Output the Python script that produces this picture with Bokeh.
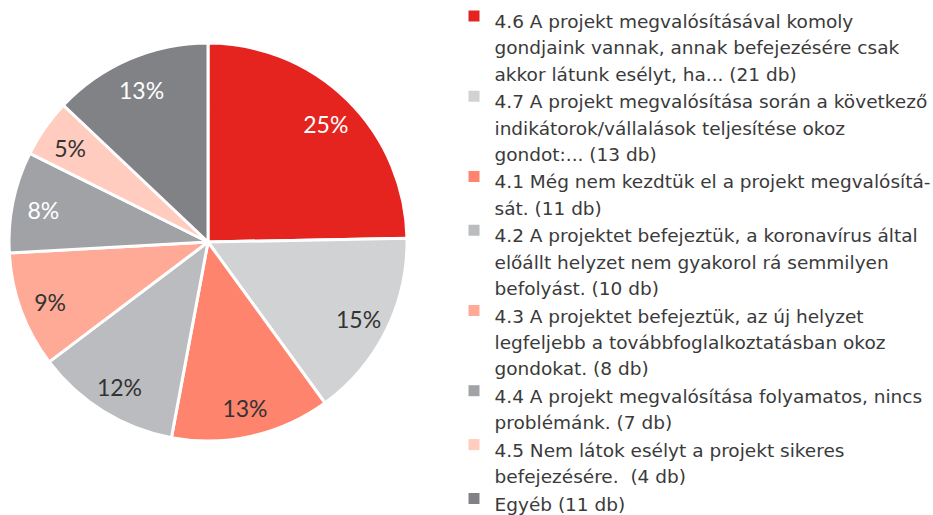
import math
from bokeh.plotting import figure
from bokeh.models import Range1d, ColumnDataSource
from bokeh.core.properties import value
from bokeh.embed import file_html
from bokeh.resources import INLINE

# ---- data ----
categories = [
    "4.6 A projekt megvalósításával komoly\ngondjaink vannak, annak befejezésére csak\nakkor látunk esélyt, ha... (21 db)",
    "4.7 A projekt megvalósítása során a következő\nindikátorok/vállalások teljesítése okoz\ngondot:... (13 db)",
    "4.1 Még nem kezdtük el a projekt megvalósítá-\nsát. (11 db)",
    "4.2 A projektet befejeztük, a koronavírus által\nelőállt helyzet nem gyakorol rá semmilyen\nbefolyást. (10 db)",
    "4.3 A projektet befejeztük, az új helyzet\nlegfeljebb a továbbfoglalkoztatásban okoz\ngondokat. (8 db)",
    "4.4 A projekt megvalósítása folyamatos, nincs\nproblémánk. (7 db)",
    "4.5 Nem látok esélyt a projekt sikeres\nbefejezésére.\u00a0 (4 db)",
    "Egyéb (11 db)",
]
counts = [21, 13, 11, 10, 8, 7, 4, 11]
colors = ["#E52420", "#D1D2D4", "#FF846E", "#BBBCBF", "#FFAA96", "#A1A2A6", "#FFCCBF", "#818286"]
label_colors = ["white", "#333333", "#333333", "#333333", "#333333", "white", "#333333", "white"]

TEXT_COLOR = "#3a3a3a"

W, H = 933, 515
p = figure(width=W, height=H, output_backend="svg", toolbar_location=None,
           x_range=Range1d(0, W), y_range=Range1d(0, H),
           x_axis_type=None, y_axis_type=None, min_border=0,
           outline_line_color=None, background_fill_color="white")
p.grid.visible = False

# pie geometry (page px -> data: x same, y = 515 - py)
cx, cy, R = 207.5, 515 - 241.5, 199.0
total = sum(counts)
starts, ends, lx, ly, ltxt = [], [], [], [], []
cum = 0.0
for c in counts:
    a0 = math.pi / 2 - 2 * math.pi * cum / total
    cum += c
    a1 = math.pi / 2 - 2 * math.pi * cum / total
    starts.append(a0)
    ends.append(a1)
    mid = (a0 + a1) / 2
    lx.append(cx + 0.845 * R * math.cos(mid))
    ly.append(cy + 0.845 * R * math.sin(mid) - 2)
    ltxt.append(f"{round(100 * c / total)}%")

src = ColumnDataSource(dict(start=starts, end=ends, color=colors))
p.wedge(x=cx, y=cy, radius=R, start_angle="start", end_angle="end", direction="clock",
        fill_color="color", line_color="white", line_width=3, source=src)

p.text(x=lx, y=ly, text=ltxt, text_color=label_colors, text_align="center",
       text_baseline="middle", text_font=value("Lato"), text_font_size="23px")

# legend
L, G = 26.3, 1.3
mx, tx = 473.5, 494
marker_y = 15.5
mxs, mys, txs, tys, tts = [], [], [], [], []
for cat in categories:
    lines = cat.split("\n")
    mxs.append(mx)
    mys.append(515 - marker_y)
    for i, ln in enumerate(lines):
        txs.append(tx)
        tys.append(515 - (marker_y + 5.5 + i * L))
        tts.append(ln)
    marker_y += len(lines) * L + G

p.rect(x=mxs, y=mys, width=11, height=11, fill_color=colors, line_color=None)
p.text(x=txs, y=tys, text=tts, text_color=TEXT_COLOR, text_align="left",
       text_baseline="alphabetic", text_font=value("DejaVu Sans"), text_font_size="18.5px")

open("out.html", "w").write(file_html(p, INLINE))
